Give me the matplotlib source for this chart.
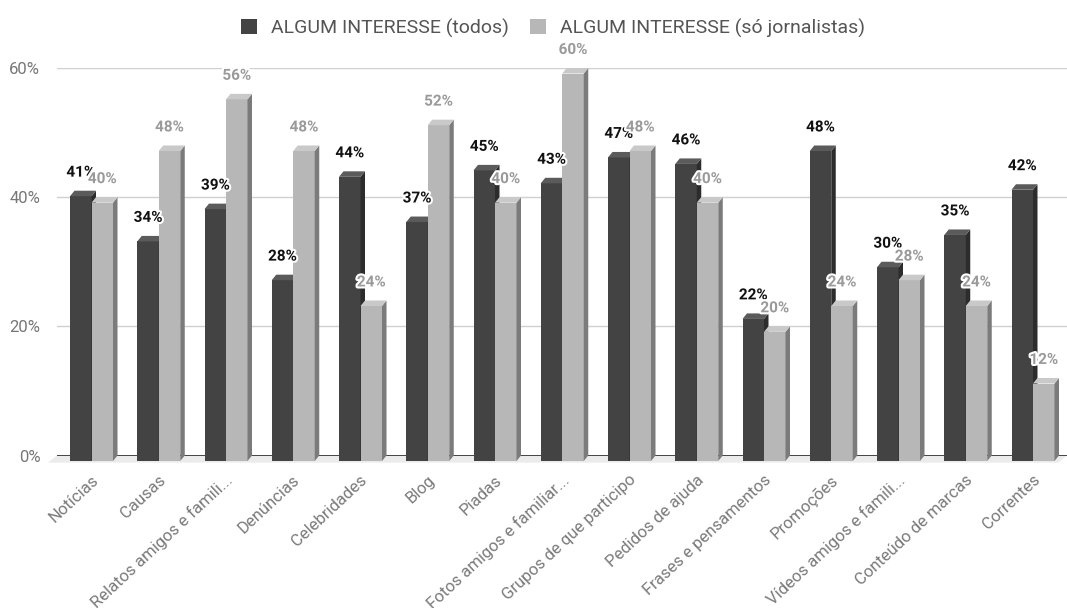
import matplotlib.pyplot as plt
import matplotlib.patheffects as pe
from matplotlib.patches import Polygon, Patch
import numpy as np

plt.rcParams['font.family'] = ['Roboto', 'DejaVu Sans']

categorias = ["Notícias", "Causas", "Relatos amigos e famili...", "Denúncias",
              "Celebridades", "Blog", "Piadas", "Fotos amigos e familiar...",
              "Grupos de que participo", "Pedidos de ajuda", "Frases e pensamentos",
              "Promoções", "Vídeos amigos e famili...", "Conteúdo de marcas", "Correntes"]
todos = [41, 34, 39, 28, 44, 37, 45, 43, 47, 46, 22, 48, 30, 35, 42]
jornalistas = [40, 48, 56, 48, 24, 52, 40, 60, 48, 40, 20, 24, 28, 24, 12]
series_nomes = ["ALGUM INTERESSE (todos)", "ALGUM INTERESSE (só jornalistas)"]
y_ticks = [0, 20, 40, 60]

W, H, DPI = 1067, 608, 100
fig = plt.figure(figsize=(W / DPI, H / DPI), dpi=DPI)

# zone du graphique en pixels
x_left, x_right = 57, 1067
y_top, y_zero = 68, 455.5
ax = fig.add_axes([x_left / W, 1 - y_zero / H, (x_right - x_left) / W, (y_zero - y_top) / H])

px_cat = 67.25                    # pixels par catégorie
x_lo = -(96 - x_left) / px_cat
ax.set_xlim(x_lo, x_lo + (x_right - x_left) / px_cat)
ax.set_ylim(0, 60)
px_pct = (y_zero - y_top) / 60

# profondeur 3D (en unités de données)
dx = 4.5 / px_cat
dy = 5.5 / px_pct
larg = 21.5 / px_cat

couleurs = [
    dict(face="#434343", side="#2c2c2c", top="#5b5b5b", label="#111111"),
    dict(face="#b7b7b7", side="#7b7b7b", top="#c9c9c9", label="#9a9a9a"),
]

# grille + sol
for t in y_ticks[1:]:
    ax.axhline(t, color="#d0d0d0", lw=1.0, zorder=0)
xl = ax.get_xlim()
sol = Polygon([(xl[0], 0), (xl[1], 0), (xl[1] - 2 * dx, -1.3 * dy), (xl[0] - 2 * dx, -1.3 * dy)],
              closed=True, facecolor="#ebebeb", edgecolor="none", zorder=0.5, clip_on=False)
ax.add_patch(sol)
ax.axhline(0, color="#444444", lw=1.4, zorder=0.8)

x = np.arange(len(categorias))
xc = x - dx  # centre avant de chaque groupe


def barre3d(x0, v, c, z):
    x1 = x0 + larg
    ax.bar(x0, v, width=larg, bottom=-dy, align="edge", color=c["face"],
           linewidth=0, zorder=z, clip_on=False)
    ax.add_patch(Polygon([(x1, -dy), (x1, v - dy), (x1 + dx, v), (x1 + dx, 0)],
                         closed=True, facecolor=c["side"], edgecolor="none",
                         zorder=z, clip_on=False))
    ax.add_patch(Polygon([(x0, v - dy), (x1, v - dy), (x1 + dx, v), (x0 + dx, v)],
                         closed=True, facecolor=c["top"], edgecolor="none",
                         zorder=z, clip_on=False))


for i in range(len(categorias)):
    barre3d(xc[i] - larg, todos[i], couleurs[0], 2)
    barre3d(xc[i], jornalistas[i], couleurs[1], 3)

halo = [pe.withStroke(linewidth=3, foreground="white")]
for k, vals in enumerate([todos, jornalistas]):
    for i, v in enumerate(vals):
        cx = xc[i] - larg / 2 if k == 0 else xc[i] + larg / 2
        ax.annotate(f"{v}%", (cx, v), xytext=(0, 13), textcoords="offset points",
                    ha="center", va="center", fontsize=11, fontweight="bold",
                    color=couleurs[k]["label"], path_effects=halo,
                    zorder=10 + k, annotation_clip=False)

ax.set_yticks(y_ticks)
ax.set_yticklabels([f"{t}%" for t in y_ticks], fontsize=12, color="#777777")
ax.tick_params(axis="y", length=0, pad=12)
ax.set_xticks(x)
ax.set_xticklabels(categorias, rotation=43, ha="right", va="center",
                   rotation_mode="anchor", fontsize=12, color="#7a7a7a")
ax.tick_params(axis="x", length=0, pad=16)
for s in ax.spines.values():
    s.set_visible(False)

handles = [Patch(facecolor=couleurs[k]["face"], edgecolor="none") for k in range(2)]
fig.legend(handles, series_nomes, loc="center", bbox_to_anchor=(553 / W, 1 - 28 / H),
           ncol=2, frameon=False, fontsize=14, labelcolor="#555555",
           handlelength=0.8, handleheight=0.8, columnspacing=1.1, handletextpad=0.72)

fig.savefig("out.png", dpi=DPI)
